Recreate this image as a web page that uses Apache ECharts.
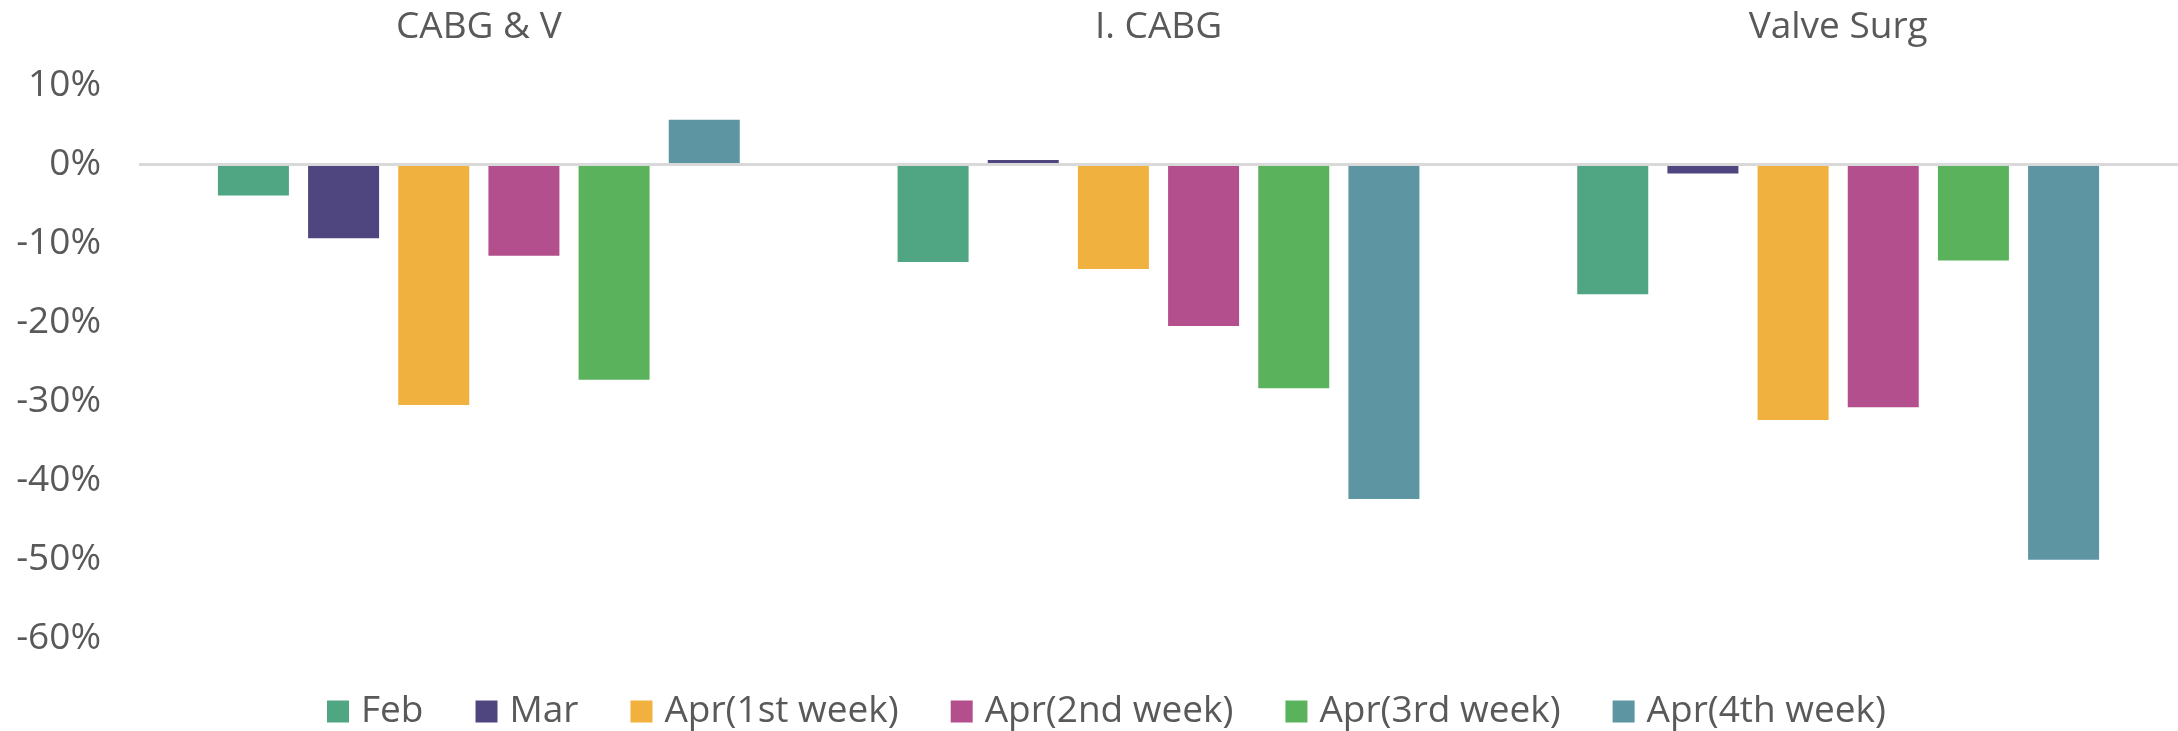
<!DOCTYPE html>
<html>
<head>
<meta charset="utf-8">
<script src="https://cdn.jsdelivr.net/npm/echarts@6/dist/echarts.min.js"></script>
<style>
html,body{margin:0;padding:0;background:#fff;}
#c{width:2178px;height:731px;}
</style>
</head>
<body>
<div id="c"></div>
<script>
const categories = ['CABG & V', 'I. CABG', 'Valve Surg'];
const seriesNames = ['Feb', 'Mar', 'Apr(1st week)', 'Apr(2nd week)', 'Apr(3rd week)', 'Apr(4th week)'];
const feb = [-4.0, -12.4, -16.5];
const mar = [-9.4, 0.5, -1.2];
const apr1 = [-30.5, -13.3, -32.4];
const apr2 = [-11.6, -20.5, -30.8];
const apr3 = [-27.3, -28.4, -12.2];
const apr4 = [5.6, -42.4, -50.1];
const colors = ['#50A582', '#4F4680', '#F1B13E', '#B34F8C', '#5AB25C', '#5D95A3'];

const values = [feb, mar, apr1, apr2, apr3, apr4];
const font = '"Open Sans", "Noto Sans", sans-serif';
const textColor = '#595959';

const series = values.map((d, i) => ({
  name: seriesNames[i],
  type: 'bar',
  data: d,
  barWidth: 71,
  barGap: '27%',
  itemStyle: { color: colors[i] },
  markLine: i === 0 ? {
    silent: true,
    symbol: ['none', 'none'],
    label: { show: false },
    lineStyle: { color: '#D9D9D9', width: 3, type: 'solid' },
    data: [{ yAxis: 0 }]
  } : undefined
}));

const chart = echarts.init(document.getElementById('c'));
chart.setOption({
  animation: false,
  color: colors,
  grid: { left: 139, right: 0, top: 85, bottom: 93 },
  legend: {
    data: seriesNames,
    left: 322,
    top: 688,
    itemWidth: 22,
    itemHeight: 22,
    itemGap: 52,
    icon: 'rect',
    textStyle: { fontFamily: font, fontSize: 37, color: textColor, padding: [0, 0, 0, 7] }
  },
  xAxis: {
    type: 'category',
    data: categories,
    position: 'top',
    axisLine: { show: false, onZero: false },
    axisTick: { show: false },
    axisLabel: { fontFamily: font, fontSize: 37, color: textColor, margin: 39 }
  },
  yAxis: {
    type: 'value',
    min: -60,
    max: 10,
    interval: 10,
    axisLine: { show: false },
    axisTick: { show: false },
    splitLine: { show: false },
    axisLabel: {
      fontFamily: font, fontSize: 37, color: textColor, margin: 38,
      formatter: v => v + '%'
    }
  },
  series: series
});
</script>
</body>
</html>
